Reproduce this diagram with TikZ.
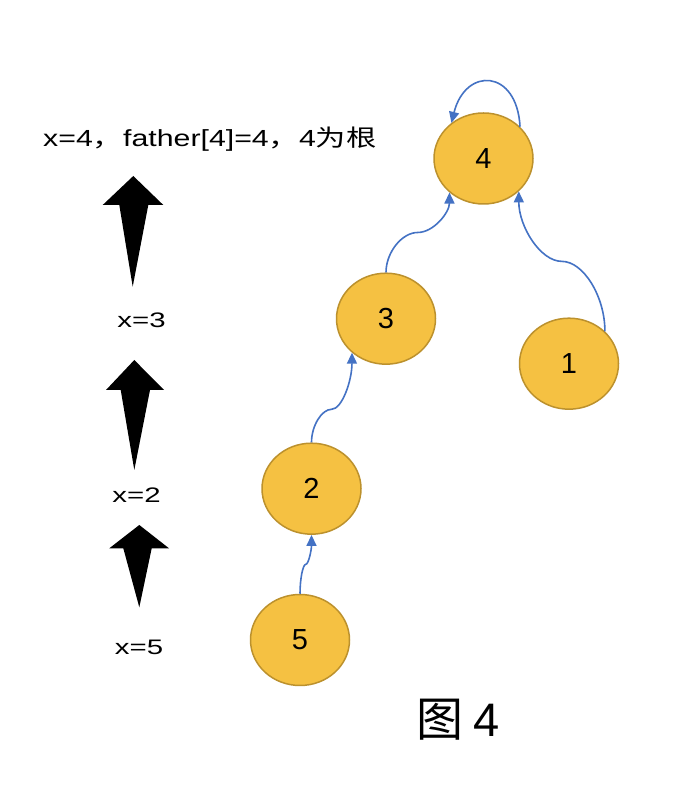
\documentclass[tikz,border=0pt]{standalone}
\usepackage{fontspec}
\setmainfont{Liberation Sans}
\newfontfamily\cjk{Noto Sans CJK SC}
\usetikzlibrary{arrows.meta,shapes.geometric,calc}
\definecolor{nodefill}{RGB}{245,193,66}
\definecolor{nodeline}{RGB}{188,145,45}
\definecolor{edgeblue}{RGB}{68,114,196}
\begin{document}
\begin{tikzpicture}[x=1pt,y=1pt,
  vert/.style={ellipse, minimum width=99pt, minimum height=91pt, inner sep=0pt,
    fill=nodefill, draw=nodeline, line width=1.5pt, font=\fontsize{29}{34}\selectfont},
  link/.style={draw=edgeblue, line width=1.6pt, -{Triangle[length=11pt,width=10pt]}},
  scurve/.style={to path={let \p1=(\tikztostart), \p2=(\tikztotarget), \n1={#1} in
    .. controls (\x1,{\y1+\n1*(\y2-\y1)/2}) and ({\x1+(\x2-\x1)/4},{\y1+\n1*(\y2-\y1)})
    .. ({(\x1+\x2)/2},{\y1+\n1*(\y2-\y1)})
    .. controls ({\x1+3*(\x2-\x1)/4},{\y1+\n1*(\y2-\y1)}) and (\x2,{\y2-(1-\n1)*(\y2-\y1)/2})
    .. (\x2,\y2) \tikztonodes}},
  scurve/.default=0.5,
  lbl/.style={inner sep=0pt, anchor=base, font=\fontsize{21}{25}\selectfont},
  bigarrow/.style={fill=black}
]
\fill[white] (0,0) rectangle (680,797);
\useasboundingbox (0,0) rectangle (680,797);

% nodes
\node[vert] (n4) at (483.5,638.5) {4};
\node[vert] (n3) at (386,478.3) {3};
\node[vert] (n1) at (569,433.3) {1};
\node[vert] (n2) at (311.5,308.3) {2};
\node[vert] (n5) at (300,157) {5};

% connectors
\draw[link] (n5.north) to[scurve] (n2.south);
\draw[link] (n2.north) to[scurve=0.37] (n3.225);
\draw[link] (n3.north) to[scurve] (n4.225);
\draw[link] (n1.42) to[scurve] (n4.317);
\draw[link] (n4.41) .. controls +(93:58) and +(76:58) .. (n4.132);

% texts
\node[anchor=base west, inner sep=0pt, font=\fontsize{23.3}{28}\selectfont] (title) at (43,650.3)
  {\scalebox{1.3}[1]{x=4{\cjk ，}father[4]=4{\cjk ，}4{\cjk 为根}}};
\node[lbl] (l3) at (141.5,469) {\scalebox{1.4}[1]{x=3}};
\node[lbl] (l2) at (136.5,294) {\scalebox{1.4}[1]{x=2}};
\node[lbl] (l5) at (139,142) {\scalebox{1.4}[1]{x=5}};
\node[anchor=base west, inner sep=0pt, font=\fontsize{47}{56}\selectfont] (cap) at (416,60)
  {{\cjk 图}\hspace{10pt}4};

% big black arrows
\fill[bigarrow] (133.3,621) -- (102.7,592) -- (119.3,592) -- (132.7,510.3) -- (148.3,592) -- (163.3,592) -- cycle;
\fill[bigarrow] (134.3,437) -- (106,407) -- (120.7,407) -- (134.3,327) -- (150,407) -- (164,407) -- cycle;
\fill[bigarrow] (139.3,272) -- (109.3,248.7) -- (123.3,248.7) -- (139.3,189.7) -- (151.7,248.7) -- (169,248.7) -- cycle;
\end{tikzpicture}
\end{document}
